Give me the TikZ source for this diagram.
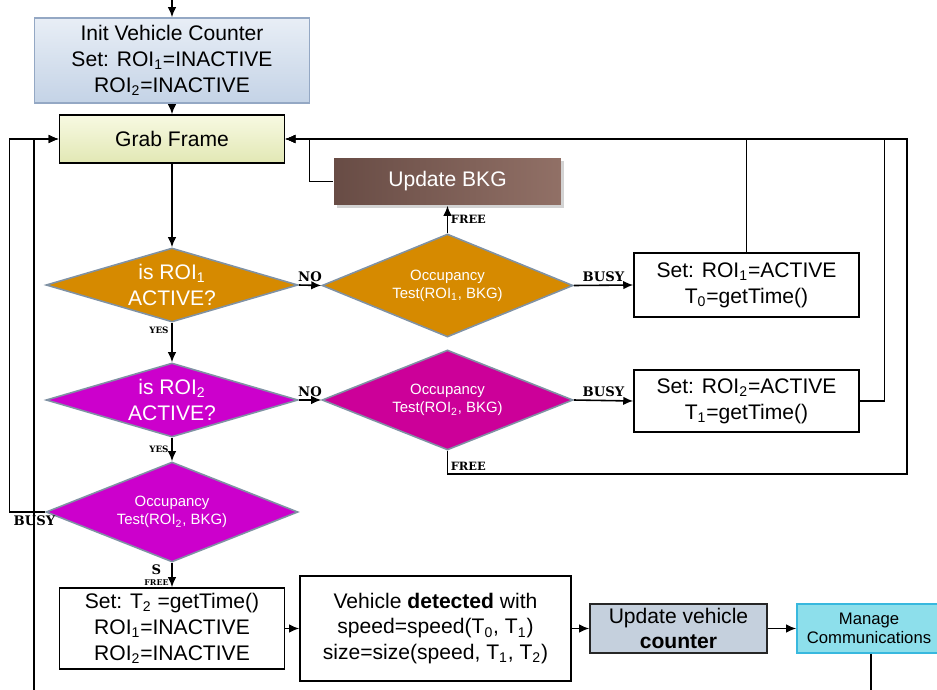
\documentclass[tikz,border=0pt]{standalone}
\usepackage{fontspec}
\setmainfont{Liberation Sans}
\newfontfamily\tagfont{DejaVu Serif}
\usetikzlibrary{arrows.meta, shapes.geometric, shadows}
\definecolor{inittop}{RGB}{232,238,246}
\definecolor{initbot}{RGB}{196,211,230}
\definecolor{initedge}{RGB}{148,168,196}
\definecolor{grabtop}{RGB}{247,249,226}
\definecolor{grabbot}{RGB}{226,232,180}
\definecolor{testorange}{RGB}{214,138,0}
\definecolor{testmagenta}{RGB}{204,0,204}
\definecolor{testpink}{RGB}{204,0,153}
\definecolor{diaedge}{RGB}{128,146,164}
\definecolor{bkgdark}{RGB}{104,76,69}
\definecolor{bkglight}{RGB}{145,112,102}
\definecolor{updfill}{RGB}{197,208,221}
\definecolor{commfill}{RGB}{141,223,235}
\definecolor{commedge}{RGB}{56,184,222}

\tikzset{
  base/.style={align=center, inner sep=0pt, line width=0.9pt, font={\fontsize{12}{14.7}\selectfont}},
  initbox/.style={base, draw=initedge, top color=inittop, bottom color=initbot, minimum width=5.5cm, minimum height=1.7cm},
  grabbox/.style={base, draw=black, top color=grabtop, bottom color=grabbot, minimum width=4.5cm, minimum height=0.96cm},
  bkgbox/.style={base, text=white, left color=bkgdark, right color=bkglight, drop shadow={opacity=0.35, shadow xshift=0.06cm, shadow yshift=-0.06cm}, minimum width=4.54cm, minimum height=0.94cm},
  setbox/.style={base, draw=black, fill=white, minimum width=4.5cm},
  updbox/.style={base, draw=black!85, fill=updfill, minimum width=3.54cm, minimum height=0.98cm},
  commbox/.style={base, draw=commedge, fill=commfill, font={\fontsize{9.5}{11}\selectfont}, minimum width=2.88cm, minimum height=0.98cm},
  dia/.style={diamond, draw=diaedge, line width=0.9pt, inner sep=0pt, minimum width=5.04cm},
  bigtext/.style={text=white, align=center, font={\fontsize{12}{14.7}\selectfont}},
  smalltext/.style={text=white, align=center, font={\fontsize{8.5}{10.2}\selectfont}},
  tag/.style={font={\tagfont\bfseries\fontsize{7.5}{7.5}\selectfont}, inner sep=1.5pt},
  arr/.style={-{Latex[length=2mm,width=1.7mm]}, line width=0.9pt},
  back/.style={line width=0.7pt}
}

\begin{document}
\begin{tikzpicture}[x=0.02cm, y=-0.02cm]
  \useasboundingbox (0,0) rectangle (937,690);

  % main column
  \node[initbox] (init) at (172,60.5) {Init Vehicle Counter\\Set: ROI\textsubscript{1}=INACTIVE\\ROI\textsubscript{2}=INACTIVE};
  \node[grabbox] (grab) at (172,139) {Grab Frame};
  \node[dia, fill=testorange, minimum height=1.48cm] (roione) at (172,285) {};
  \node[bigtext] (roionetxt) at (roione) {is ROI\textsubscript{1}\\ACTIVE?};
  \node[dia, fill=testmagenta, minimum height=1.48cm] (roitwo) at (172,400) {};
  \node[bigtext] (roitwotxt) at (roitwo) {is ROI\textsubscript{2}\\ACTIVE?};
  \node[dia, fill=testmagenta, minimum height=2cm] (occlast) at (172,512) {};
  \node[smalltext] (occlasttxt) at (occlast) {Occupancy\\Test(ROI\textsubscript{2}, BKG)};
  \node[setbox, minimum height=1.62cm] (settwo) at (172,628.5) {Set: T\textsubscript{2} =getTime()\\ROI\textsubscript{1}=INACTIVE\\ROI\textsubscript{2}=INACTIVE};

  % occupancy tests
  \node[bkgbox] (bkg) at (447.5,181.5) {Update BKG};
  \node[dia, fill=testorange, minimum width=5.02cm, minimum height=2.06cm] (occone) at (447.5,285.5) {};
  \node[smalltext] (occonetxt) at (occone) {Occupancy\\Test(ROI\textsubscript{1}, BKG)};
  \node[dia, fill=testpink, minimum width=5.02cm, minimum height=2cm] (occtwo) at (447.5,400) {};
  \node[smalltext] (occtwotxt) at (occtwo) {Occupancy\\Test(ROI\textsubscript{2}, BKG)};
  \node[setbox, minimum height=1.28cm] (actone) at (746.5,285) {Set: ROI\textsubscript{1}=ACTIVE\\T\textsubscript{0}=getTime()};
  \node[setbox, minimum height=1.24cm] (acttwo) at (746.5,401) {Set: ROI\textsubscript{2}=ACTIVE\\T\textsubscript{1}=getTime()};

  % bottom row
  \node[setbox, minimum width=5.42cm, minimum height=2.1cm] (vehicle) at (435.5,628.5) {Vehicle \textbf{detected} with\\speed=speed(T\textsubscript{0}, T\textsubscript{1})\\size=size(speed, T\textsubscript{1}, T\textsubscript{2})};
  \node[updbox] (counter) at (678.5,628.5) {Update vehicle\\\textbf{counter}};
  \node[commbox] (comm) at (869,628.5) {Manage\\Communications};

  \coordinate (entry) at (172,0);
  \coordinate (loopout) at (871,690);
  \coordinate (loopin) at (34,690);

  % forward flow
  \draw[arr] (entry) -- (init.north);
  \draw[arr] (init.south) -- (grab.north);
  \draw[arr] (grab.south) -- (roione.north);
  \draw[arr] (roione.east) -- node[tag, above] {NO} (occone.west);
  \draw[arr] (occone.north) -- node[tag, right, font={\tagfont\bfseries\fontsize{6.5}{6.5}\selectfont}] {FREE} (bkg.south);
  \draw[arr] (occone.east) -- node[tag, above] {BUSY} (actone.west);
  \draw[arr] (roione.south) -- node[tag, pos=0.2, left, font={\tagfont\bfseries\fontsize{5}{5}\selectfont}] {YES} (roitwo.north);
  \draw[arr] (roitwo.east) -- node[tag, above] {NO} (occtwo.west);
  \draw[arr] (occtwo.east) -- node[tag, above] {BUSY} (acttwo.west);
  \draw[arr] (roitwo.south) -- node[tag, left, font={\tagfont\bfseries\fontsize{5}{5}\selectfont}] {YES} (occlast.north);
  \draw[arr] (occlast.south) -- node[tag, left, align=center] {S\\[-1pt]{\fontsize{4.5}{4.5}\selectfont FREE}} (settwo.north);
  \draw[arr] (settwo.east) -- (vehicle.west);
  \draw[arr] (vehicle.east) -- (counter.west);
  \draw[arr] (counter.east) -- (comm.west);

  % back to Grab Frame
  \draw[arr, back] (bkg.west) -- ++(-24,0) |- (grab.east);
  \draw[arr, back] (actone.north) |- (grab.east);
  \draw[arr, back] (acttwo.east) -- ++(25,0) |- (grab.east);
  \draw[arr, back] (occtwo.south) |- node[tag, pos=0.5, above right, font={\tagfont\bfseries\fontsize{6.5}{6.5}\selectfont}] {FREE} (907,474) |- (grab.east);
  \draw[arr, back] (occlast.west) -- node[tag, pos=0.3, below] {BUSY} ++(-36,0) |- (grab.west);
  \draw[back] (loopout |- comm.south) -- (loopout);
  \draw[arr, back] (loopin) |- (grab.west);
\end{tikzpicture}
\end{document}
